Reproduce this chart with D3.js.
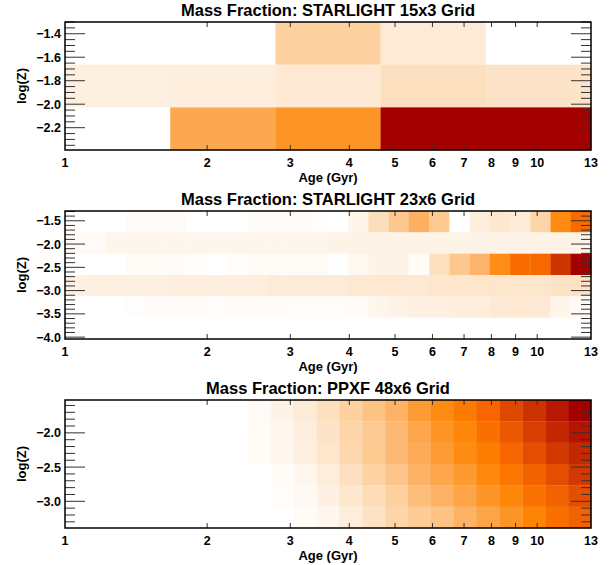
<!DOCTYPE html>
<html>
<head>
<meta charset="utf-8">
<script src="https://cdn.jsdelivr.net/npm/d3@7"></script>
<style>
  body { margin: 0; background: #fff; }
  text { font-family: "Liberation Sans", Arial, sans-serif; font-weight: bold; fill: #000; }
</style>
</head>
<body>
<svg id="chart"></svg>
<script>
const width = 610;
const height = 565;

// x axis labels shared by all three panels
const ageTicks = [1, 2, 3, 4, 5, 6, 7, 8, 9, 10, 13];
const ageRange = [1, 13];

// panel titles
const titles = [
    "Mass Fraction: STARLIGHT 15x3 Grid",
    "Mass Fraction: STARLIGHT 23x6 Grid",
    "Mass Fraction: PPXF 48x6 Grid"
];

// number of visible age bins (log spaced between 1 and 13 Gyr)
const p1AgeBins = 5;
const p2AgeBins = 26;
const p3AgeBins = 23;

// metallicity bin edges, top to bottom
const p1ZEdges = [-1.30, -1.663, -2.027, -2.39];
const p2ZEdges = [-1.29, -1.748, -2.207, -2.665, -3.123, -3.582, -4.04];
const p3ZEdges = [-1.52, -1.832, -2.143, -2.455, -2.767, -3.078, -3.39];

// y tick labels
const p1ZTicks = [-1.4, -1.6, -1.8, -2.0, -2.2];
const p2ZTicks = [-1.5, -2.0, -2.5, -3.0, -3.5, -4.0];
const p3ZTicks = [-2.0, -2.5, -3.0];
const p1Minor = 0.05, p2Minor = 0.1, p3Minor = 0.1;

// mass fraction (relative colour level), rows top -> bottom, columns young -> old
const p1Values = [
    [0, 0, 0.27, 0.12, 0],
    [0.09, 0.10, 0.13, 0.20, 0.17],
    [0, 0.44, 0.52, 1.0, 1.0]
];

const p2Values = [
    [0, 0, 0, 0.02, 0.02, 0.02, 0, 0, 0, 0.025, 0.025, 0.025, 0.015, 0, 0.06, 0.21, 0.31, 0.41, 0.30, 0, 0.10, 0.15, 0.12, 0.25, 0.56, 0.69],
    [0.03, 0.03, 0.055, 0.055, 0.055, 0.055, 0.055, 0.055, 0.055, 0.055, 0.055, 0.055, 0.055, 0.07, 0.07, 0.07, 0.07, 0.07, 0.07, 0.07, 0.07, 0.07, 0.07, 0.07, 0.07, 0.07],
    [0, 0, 0, 0.02, 0.025, 0.02, 0.015, 0, 0.015, 0.02, 0.025, 0.02, 0.02, 0, 0.04, 0.07, 0.07, 0.025, 0.20, 0.31, 0.39, 0.55, 0.68, 0.70, 0.86, 1.0],
    [0.08, 0.09, 0.09, 0.09, 0.09, 0.10, 0.10, 0.10, 0.10, 0.10, 0.12, 0.12, 0.12, 0.12, 0.14, 0.14, 0.14, 0.14, 0.16, 0.16, 0.16, 0.16, 0.16, 0.16, 0.18, 0.19],
    [0, 0, 0, 0.01, 0.025, 0.025, 0.02, 0.015, 0.025, 0.02, 0.02, 0.015, 0.015, 0.015, 0.025, 0.06, 0.07, 0.08, 0.09, 0.10, 0.11, 0.13, 0.14, 0.13, 0.06, 0.03],
    [0, 0, 0, 0, 0, 0, 0, 0, 0, 0, 0, 0, 0, 0, 0, 0, 0, 0, 0, 0, 0, 0, 0, 0, 0, 0]
];

const p3Values = [
    [0, 0, 0, 0, 0, 0, 0, 0, 0.03, 0.07, 0.12, 0.20, 0.27, 0.33, 0.40, 0.49, 0.56, 0.63, 0.71, 0.80, 0.87, 0.94, 1.0],
    [0, 0, 0, 0, 0, 0, 0, 0, 0.02, 0.05, 0.10, 0.17, 0.25, 0.30, 0.37, 0.45, 0.52, 0.58, 0.67, 0.75, 0.83, 0.90, 0.95],
    [0, 0, 0, 0, 0, 0, 0, 0, 0.02, 0.05, 0.09, 0.16, 0.24, 0.30, 0.37, 0.43, 0.49, 0.56, 0.62, 0.71, 0.78, 0.85, 0.90],
    [0, 0, 0, 0, 0, 0, 0, 0, 0, 0.02, 0.05, 0.11, 0.20, 0.26, 0.32, 0.40, 0.45, 0.50, 0.57, 0.65, 0.72, 0.78, 0.85],
    [0, 0, 0, 0, 0, 0, 0, 0, 0, 0.015, 0.035, 0.08, 0.15, 0.22, 0.27, 0.35, 0.40, 0.46, 0.52, 0.58, 0.66, 0.72, 0.78],
    [0, 0, 0, 0, 0, 0, 0, 0, 0, 0, 0.02, 0.05, 0.11, 0.18, 0.25, 0.29, 0.33, 0.40, 0.46, 0.52, 0.59, 0.67, 0.72]
];

// colour table (white -> orange -> dark red)
const colorStops = [0, 0.1, 0.2, 0.3, 0.4, 0.5, 0.6, 0.7, 0.8, 0.9, 1.0];
const colorRange = ["#ffffff", "#feeedd", "#fde0c0", "#fdca92", "#fdb266", "#fd9a30",
                    "#fe8200", "#f86800", "#e04800", "#c42800", "#a50000"];

var colorScale = d3.scaleLinear().domain(colorStops).range(colorRange).clamp(true);

var svg = d3.select("#chart")
    .attr("width", width)
    .attr("height", height);

const left = 65, right = 591, panelH = 128;
const panelTops = [22, 211, 400];

var x = d3.scaleLog().domain(ageRange).range([left, right]);

// log spaced bin edges between 1 and 13 Gyr
function ageEdges(n) {
    return d3.range(n + 1).map(k => Math.pow(ageRange[1], k / n));
}

function drawPanel(top, title, nAge, zEdges, values, zTicks, minorStep) {
    var y = d3.scaleLinear()
        .domain([zEdges[zEdges.length - 1], zEdges[0]])
        .range([top + panelH, top]);
    var aEdges = ageEdges(nAge);
    var g = svg.append("g");

    // cells
    var cells = [];
    values.forEach((row, i) => row.forEach((v, j) => {
        cells.push({ a0: aEdges[j], a1: aEdges[j + 1], z0: zEdges[i], z1: zEdges[i + 1], v: v });
    }));
    g.selectAll("rect.cell")
        .data(cells)
        .enter().append("rect")
        .attr("class", "cell")
        .attr("x", d => x(d.a0))
        .attr("width", d => x(d.a1) - x(d.a0) + 0.3)
        .attr("y", d => y(d.z0))
        .attr("height", d => y(d.z1) - y(d.z0) + 0.3)
        .attr("fill", d => colorScale(d.v));

    // minor / major y ticks on both sides
    var dom = y.domain();
    var minors = d3.range(Math.ceil(dom[0] / minorStep - 1e-6), Math.floor(dom[1] / minorStep + 1e-6) + 1)
        .map(k => k * minorStep);
    var isMajor = v => zTicks.some(t => Math.abs(t - v) < 1e-6);
    minors.forEach(v => {
        var len = isMajor(v) ? 20 : 10;
        var yy = y(v);
        g.append("line").attr("x1", left).attr("x2", left + len).attr("y1", yy).attr("y2", yy)
            .attr("stroke", "#333").attr("stroke-width", 1);
        g.append("line").attr("x1", right - len).attr("x2", right).attr("y1", yy).attr("y2", yy)
            .attr("stroke", "#333").attr("stroke-width", 1);
    });

    // x ticks top and bottom
    ageTicks.slice(1, -1).forEach(a => {
        g.append("line").attr("x1", x(a)).attr("x2", x(a)).attr("y1", top).attr("y2", top + 5)
            .attr("stroke", "#333");
        g.append("line").attr("x1", x(a)).attr("x2", x(a)).attr("y1", top + panelH - 5).attr("y2", top + panelH)
            .attr("stroke", "#333");
    });

    // frame
    g.append("rect")
        .attr("x", left).attr("y", top)
        .attr("width", right - left).attr("height", panelH)
        .attr("fill", "none").attr("stroke", "#000").attr("stroke-width", 1.5);

    // tick labels
    g.selectAll("text.ylab")
        .data(zTicks)
        .enter().append("text")
        .attr("class", "ylab")
        .attr("x", left - 4)
        .attr("y", d => y(d))
        .attr("dy", "0.36em")
        .attr("text-anchor", "end")
        .style("font-size", "12.5px")
        .text(d => d3.format(".1f")(d).replace("-", "\u2212"));

    g.selectAll("text.xlab")
        .data(ageTicks)
        .enter().append("text")
        .attr("class", "xlab")
        .attr("x", d => x(d))
        .attr("y", top + panelH + 17)
        .attr("text-anchor", "middle")
        .style("font-size", "12.5px")
        .text(d => d);

    // axis titles
    g.append("text")
        .attr("x", (left + right) / 2)
        .attr("y", top + panelH + 32)
        .attr("text-anchor", "middle")
        .style("font-size", "13px")
        .text("Age (Gyr)");

    g.append("text")
        .attr("transform", `translate(26,${top + panelH / 2}) rotate(-90)`)
        .attr("text-anchor", "middle")
        .style("font-size", "13px")
        .text("log(Z)");

    g.append("text")
        .attr("x", (left + right) / 2)
        .attr("y", top - 6)
        .attr("text-anchor", "middle")
        .style("font-size", "16.5px")
        .text(title);
}

drawPanel(panelTops[0], titles[0], p1AgeBins, p1ZEdges, p1Values, p1ZTicks, p1Minor);
drawPanel(panelTops[1], titles[1], p2AgeBins, p2ZEdges, p2Values, p2ZTicks, p2Minor);
drawPanel(panelTops[2], titles[2], p3AgeBins, p3ZEdges, p3Values, p3ZTicks, p3Minor);
</script>
</body>
</html>
